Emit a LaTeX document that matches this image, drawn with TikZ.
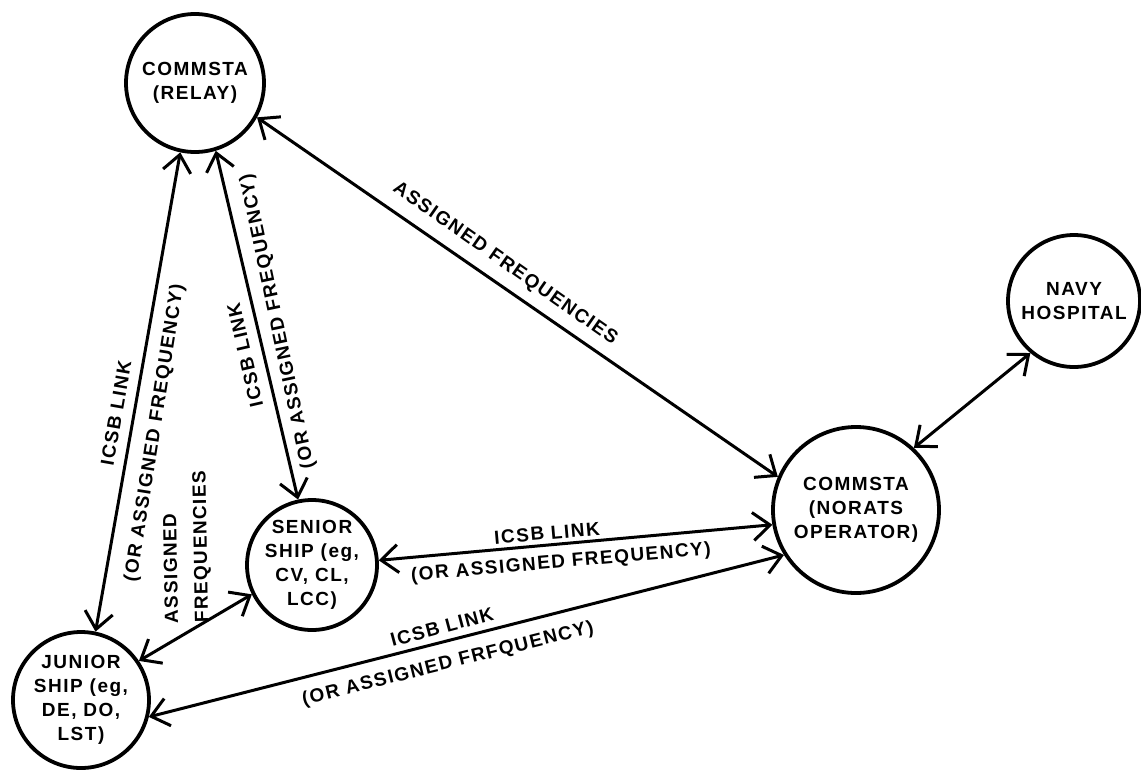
\documentclass[tikz,border=0pt]{standalone}
\usepackage{fontspec}
\setmainfont{Liberation Sans}[LetterSpace=8]
\usetikzlibrary{arrows.meta}
\begin{document}
\begin{tikzpicture}[x=1pt,y=-1pt,
  station/.style={circle, draw, line width=3.8pt, inner sep=-8pt, align=center,
    font=\fontsize{19}{24}\selectfont\bfseries},
  link/.style={line width=3pt,
    {Straight Barb[length=17pt,width=28pt]}-{Straight Barb[length=17pt,width=28pt]}},
  lbl/.style={inner sep=0pt, font=\fontsize{19}{24}\selectfont\bfseries}]
\useasboundingbox (0,0) rectangle (1141,772);
\fill[white] (0,0) rectangle (1141,772);

\node[station, minimum size=138pt] (relay) at (195,83) {COMMSTA\\(RELAY)};
\node[station, minimum size=136pt] (junior) at (81,700) {JUNIOR\\SHIP (eg,\\DE, DO,\\LST)};
\node[station, minimum size=130pt] (senior) at (312,565) {SENIOR\\SHIP (eg,\\CV, CL,\\LCC)};
\node[station, minimum size=166pt] (norats) at (856,510) {COMMSTA\\(NORATS\\OPERATOR)};
\node[station, minimum size=132pt] (navy) at (1074,301) {NAVY\\HOSPITAL};

\draw[link] (relay.-102) -- (junior.78);
\draw[link] (relay.-73) -- (senior.102);
\draw[link] (relay.-29) -- (norats.157);
\draw[link] (navy.230) -- (norats.47);
\draw[link] (senior.4) -- (norats.190);
\draw[link] (junior.-14) -- (norats.212);
\draw[link] (junior.34) -- (senior.206);

\node[lbl, rotate=80] (l1a) at (116,413) {ICSB LINK};
\node[lbl, rotate=81] (l1b) at (155,433) {(OR ASSIGNED FREQUENCY)};
\node[lbl, rotate=103] (l2a) at (245,355) {ICSB LINK};
\node[lbl, rotate=102] (l2b) at (278,321) {(OR ASSIGNED FREQUENCY)};
\node[lbl, rotate=-35] (l3) at (505,264) {ASSIGNED FREQUENCIES};
\node[lbl, rotate=5] (l4a) at (547,533) {ICSB LINK};
\node[lbl, rotate=5] (l4b) at (561,563) {(OR ASSIGNED FREQUENCY)};
\node[lbl, rotate=15] (l5a) at (442,627) {ICSB LINK};
\node[lbl, rotate=14] (l5b) at (448,664) {(OR ASSIGNED FRFQUENCY)};
\node[lbl, rotate=91, align=left, font=\fontsize{19}{30}\selectfont\bfseries] (l6) at (187,547) {ASSIGNED\\FREQUENCIES};
\end{tikzpicture}
\end{document}
